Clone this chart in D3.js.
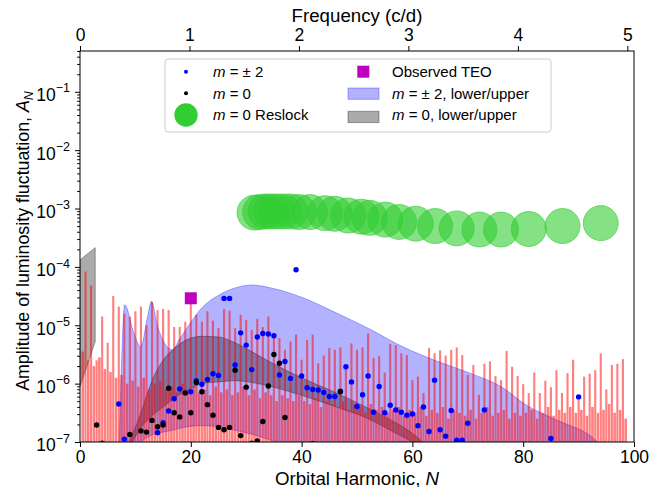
<!DOCTYPE html>
<html><head><meta charset="utf-8">
<script src="https://cdn.jsdelivr.net/npm/d3@7"></script>
<style>body{margin:0;background:#fff} svg{display:block} text{font-family:"Liberation Sans",Arial,sans-serif;fill:#000}</style>
</head><body><svg id="c" width="665" height="487"></svg>
<script>
// ---------------- DATA (log10 of amplitude) ----------------
const harmonics = d3.range(1, 99);            // orbital harmonics N = 1..98
const peakLog10 = [
 -4.08,-4.32,-5.6,-4.85,-5.3,-4.5,-4.68,-4.8,-4.85,-4.76,
 -4.68,-5.0,-4.6,-4.74,-4.72,-4.74,-5.03,-5.03,-4.94,-4.55,
 -4.82,-4.94,-4.76,-4.92,-5.05,-4.72,-4.75,-5.05,-4.82,-4.91,
 -5.08,-4.89,-5.03,-4.85,-5.16,-5.22,-5.42,-5.28,-5.16,-5.59,
 -5.25,-5.16,-5.65,-5.52,-5.39,-5.42,-5.38,-5.68,-5.31,-5.42,
 -5.38,-5.14,-5.56,-5.53,-5.81,-5.32,-5.34,-5.48,-5.51,-5.94,
 -5.88,-6.16,-5.39,-5.48,-5.43,-5.52,-5.42,-5.38,-5.51,-5.85,
 -5.68,-6.19,-5.66,-5.62,-5.87,-5.94,-5.44,-5.71,-5.87,-6.01,
 -6.16,-5.81,-6.16,-5.95,-6.06,-5.77,-6.16,-5.82,-5.59,-6.28,
 -5.88,-5.83,-5.77,-5.48,-6.1,-5.68,-5.66,-5.58];
const noiseN = d3.range(0.5, 99, 1);          // between-harmonic noise, N+0.5
const noiseLog10 = [
 -5.45,-5.6,-5.7,-5.55,-5.75,-5.8,-5.9,-5.85,-6.0,-5.95,
 -6.05,-5.9,-6.1,-6.0,-5.95,-6.1,-6.05,-6.15,-6.0,-6.1,
 -6.05,-6.15,-6.1,-6.2,-6.05,-6.15,-6.1,-6.2,-6.15,-6.05,
 -6.2,-6.1,-6.25,-6.15,-6.2,-6.3,-6.2,-6.25,-6.3,-6.2,
 -6.3,-6.35,-6.25,-6.4,-6.3,-6.35,-6.4,-6.3,-6.45,-6.35,
 -6.4,-6.5,-6.35,-6.45,-6.4,-6.5,-6.45,-6.4,-6.55,-6.45,
 -6.5,-6.4,-6.55,-6.45,-6.5,-6.4,-6.6,-6.45,-6.5,-6.55,
 -6.45,-6.6,-6.5,-6.4,-6.55,-6.5,-6.45,-6.6,-6.5,-6.55,
 -6.5,-6.45,-6.6,-6.5,-6.4,-6.55,-6.45,-6.5,-6.4,-6.5,
 -6.45,-6.55,-6.4,-6.5,-6.45,-6.35,-6.5,-6.45,-6.6];

const blueBandN  = [7.0,7.3,8.06,9.75,10.95,12.2,12.9,14.0,16.7,17.9,20,22,25.1,28,31.1,34.5,40,46.3,52,58.3,64,70.4,76,80.6,86,92.6,94.5];
const blueHiLog10= [-7.3,-6.28,-4.65,-5.14,-5.37,-4.85,-4.59,-5.02,-5.42,-5.25,-4.95,-4.7,-4.48,-4.36,-4.31,-4.36,-4.52,-4.79,-5.05,-5.37,-5.6,-5.82,-6.05,-6.37,-6.62,-6.93,-7.1];
const blueLoLog10= [-7.3,-7.3,-7.2,-7.1,-7.0,-6.92,-6.88,-6.85,-6.8,-6.77,-6.73,-6.72,-6.74,-6.8,-6.87,-6.97,-7.15,-7.3,-7.4,-7.4,-7.4,-7.4,-7.4,-7.4,-7.4,-7.4,-7.4];

const grayLeftN    = [0, 2.75];
const grayLeftHi   = [-3.88, -3.67];
const grayLeftLo   = [-6.05, -5.28];
const grayBandN    = [8,11,13,15,17,20,22,25,28,31,34.5,40,46.3,52,57,60,63];
const grayHiLog10  = [-7.2,-6.5,-5.95,-5.6,-5.4,-5.22,-5.19,-5.2,-5.3,-5.45,-5.64,-5.9,-6.16,-6.42,-6.67,-6.85,-7.1];
const grayLoLog10  = [-7.3,-6.75,-6.55,-6.4,-6.25,-6.08,-6.0,-5.97,-5.95,-5.98,-6.05,-6.2,-6.4,-6.6,-6.85,-7.0,-7.2];

const reslockN     = [31.5,32.5,33.5,34.5,35.5,36.7,38,39.5,41.5,44.2,46,48.4,50.8,52.3,55.1,57.6,60.6,64.1,68,72.1,76,81,87.1,94];
const reslockLog10 = [-3.07,-3.06,-3.05,-3.05,-3.05,-3.05,-3.05,-3.06,-3.06,-3.08,-3.09,-3.12,-3.14,-3.16,-3.19,-3.23,-3.26,-3.30,-3.34,-3.36,-3.36,-3.35,-3.30,-3.25];

const m2N     = [7,8,14,15,16,17,18,20,21,22,23,24,25,26,27,28,29,30,31,32,33,34,35,36,37,38,39,40,41,42,43,44,45,46,47,48,49,50,51,52,53,54,55,56,57,58,59,60,61,62,63,64,65,66,67,68,69,70,73,85,90];
const m2Log10 = [-6.35,-6.95,-6.84,-6.67,-6.47,-6.26,-6.09,-6.14,-5.95,-6.01,-5.93,-5.83,-5.86,-4.54,-4.54,-5.68,-5.13,-5.34,-5.76,-5.20,-5.14,-5.15,-5.18,-5.85,-5.62,-5.91,-4.05,-5.87,-6.07,-6.10,-6.11,-6.15,-6.22,-6.22,-6.13,-5.71,-5.97,-6.39,-6.19,-5.87,-6.49,-6.05,-6.50,-6.37,-6.45,-6.49,-6.54,-6.52,-6.72,-6.40,-6.82,-5.94,-6.79,-6.90,-6.46,-6.97,-6.97,-6.68,-6.45,-6.94,-6.23];
const m0N     = [3,4,9,11,12,13,14,15,16,17,18,19,20,21,22,23,24,25,26,27,28,29,30,31,32,33,34,35,36,37,42,47];
const m0Log10 = [-6.71,-7.02,-6.87,-6.81,-6.83,-6.63,-6.74,-6.71,-6.08,-6.50,-6.57,-6.16,-6.50,-5.98,-6.14,-6.36,-6.54,-6.75,-6.79,-6.75,-5.77,-6.89,-6.06,-7.02,-6.98,-6.65,-6.04,-5.50,-5.65,-6.58,-7.03,-6.14];

const teoN = [20], teoAmp = [2.9e-5];

const xTicks = [0,20,40,60,80,100];
const freqTicks = [0,1,2,3,4,5];
const yExp = [-7,-6,-5,-4,-3,-2,-1];
const legendLabels = ["m = \u00b1 2","m = 0","m = 0 Reslock","Observed TEO","m = \u00b1 2, lower/upper","m = 0, lower/upper"];

// ---------------- CHART ----------------
const svg = d3.select("#c");
const L=80,R=634,T=51,B=442;
const FS=17.5, FL=18.7;
const x = d3.scaleLinear().domain([0,100]).range([L,R]);
const xTop = d3.scaleLinear().domain([0,100*5/98.8]).range([L,R]);
const y = d3.scaleLog().domain([1e-7,0.5]).range([B,T]);
const P = v => Math.pow(10,v);

svg.append("defs").append("clipPath").attr("id","clip").append("rect")
  .attr("x",L).attr("y",T).attr("width",R-L).attr("height",B-T);
const plot = svg.append("g").attr("clip-path","url(#clip)");

// bands
const area = d3.area().x(d=>x(d.n)).y0(d=>y(P(d.lo))).y1(d=>y(P(d.hi))).curve(d3.curveMonotoneX);
const areaLin = d3.area().x(d=>x(d.n)).y0(d=>y(P(d.lo))).y1(d=>y(P(d.hi)));
const band = (N,lo,hi)=>N.map((n,i)=>({n,lo:lo[i],hi:hi[i]}));
plot.append("path").datum(band(blueBandN,blueLoLog10,blueHiLog10)).attr("d",area)
  .attr("fill","#0000ff").attr("fill-opacity",0.3).attr("stroke","#0000ff").attr("stroke-opacity",0.3);
plot.append("path").datum(band(grayLeftN,grayLeftLo,grayLeftHi)).attr("d",areaLin)
  .attr("fill","#000").attr("fill-opacity",0.33).attr("stroke","#000").attr("stroke-opacity",0.33);
plot.append("path").datum(band(grayBandN,grayLoLog10,grayHiLog10)).attr("d",area)
  .attr("fill","#000").attr("fill-opacity",0.33).attr("stroke","#000").attr("stroke-opacity",0.33);

// red spectrum (drawn over the bands)
const red = plot.append("g").attr("opacity",0.5);
red.selectAll("line.n").data(noiseLog10).join("line").attr("class","n")
  .attr("x1",(d,i)=>x(noiseN[i])).attr("x2",(d,i)=>x(noiseN[i]))
  .attr("y1",B+3).attr("y2",d=>y(P(d))).attr("stroke","#ff0000").attr("stroke-width",2.6);
red.selectAll("line.p").data(peakLog10).join("line").attr("class","p")
  .attr("x1",(d,i)=>x(harmonics[i])).attr("x2",(d,i)=>x(harmonics[i]))
  .attr("y1",B+3).attr("y2",d=>y(P(d))).attr("stroke","#ff0000").attr("stroke-width",2.1);

// reslock circles
plot.append("g").selectAll("circle").data(reslockN).join("circle")
  .attr("cx",d=>x(d)).attr("cy",(d,i)=>y(P(reslockLog10[i]))).attr("r",17.5)
  .attr("fill","limegreen").attr("fill-opacity",0.6).attr("stroke","limegreen").attr("stroke-opacity",0.6);

// dots
plot.append("g").selectAll("circle").data(m2N).join("circle")
  .attr("cx",d=>x(d)).attr("cy",(d,i)=>y(P(m2Log10[i]))).attr("r",2.7).attr("fill","#0000ff");
plot.append("g").selectAll("circle").data(m0N).join("circle")
  .attr("cx",d=>x(d)).attr("cy",(d,i)=>y(P(m0Log10[i]))).attr("r",2.7).attr("fill","#000");

// TEO
plot.selectAll("rect.teo").data(teoN).join("rect").attr("class","teo")
  .attr("x",d=>x(d)-6).attr("y",(d,i)=>y(teoAmp[i])-6).attr("width",12).attr("height",12).attr("fill","#bf00bf");

// frame
svg.append("rect").attr("x",L).attr("y",T).attr("width",R-L).attr("height",B-T)
  .attr("fill","none").attr("stroke","#000").attr("stroke-width",1);

// axes
const styleAxis = g => { g.select(".domain").remove(); g.selectAll("line").attr("stroke","#000");
  g.selectAll("text").attr("font-size",FS).attr("font-family","'Liberation Sans',Arial,sans-serif"); };
svg.append("g").attr("transform",`translate(0,${B})`)
  .call(d3.axisBottom(x).tickValues(xTicks).tickSize(5).tickPadding(4).tickFormat(d3.format("d"))).call(styleAxis);
svg.append("g").attr("transform",`translate(0,${T})`)
  .call(d3.axisTop(xTop).tickValues(freqTicks).tickSize(5).tickPadding(5).tickFormat(d3.format("d"))).call(styleAxis);
const minor=[];
for(let e=-7;e<0;e++) for(let k=2;k<10;k++){const v=k*Math.pow(10,e); if(v<=0.5) minor.push(v);}
svg.append("g").attr("transform",`translate(${L},0)`)
  .call(d3.axisLeft(y).tickValues(minor).tickSize(2.8).tickFormat("")).call(styleAxis);
svg.append("g").attr("transform",`translate(${L},0)`)
  .call(d3.axisLeft(y).tickValues(yExp.map(P)).tickSize(5).tickFormat("")).call(styleAxis);
const yl = svg.append("g");
yExp.forEach(e=>{
  const t = yl.append("text").attr("x",70).attr("y",y(P(e))+9.4).attr("text-anchor","end").attr("font-size",FS);
  t.append("tspan").text("10");
  t.append("tspan").attr("dy",-8.7).attr("font-size",12.5).text("\u2212"+Math.abs(e));
});

// axis titles
svg.append("text").attr("x",357).attr("y",484.5).attr("text-anchor","middle").attr("font-size",FL)
  .call(t=>{t.append("tspan").text("Orbital Harmonic, "); t.append("tspan").attr("font-style","italic").text("N");});
svg.append("text").attr("x",357).attr("y",22).attr("text-anchor","middle").attr("font-size",FL).text("Frequency (c/d)");
svg.append("text").attr("transform","translate(29,241) rotate(-90)").attr("text-anchor","middle").attr("font-size",17.8)
  .call(t=>{t.append("tspan").text("Amplitude of luminosity fluctuation, ");
    t.append("tspan").attr("font-style","italic").text("A");
    t.append("tspan").attr("font-style","italic").attr("dy",4).attr("font-size",12.5).text("N");});

// legend
const lg = svg.append("g");
lg.append("rect").attr("x",165).attr("y",59).attr("width",386).attr("height",73).attr("rx",3)
  .attr("fill","#fff").attr("fill-opacity",0.8).attr("stroke","#cccccc");
const rows=[77,98.6,120.3];
const mathLabel=(t,s)=>{
  if(s.startsWith("m ")){ t.append("tspan").attr("font-style","italic").text("m"); t.append("tspan").text(s.slice(1)); }
  else t.text(s);
};
lg.append("circle").attr("cx",186).attr("cy",71.7).attr("r",2).attr("fill","#0000ff");
lg.append("circle").attr("cx",186).attr("cy",93.3).attr("r",2).attr("fill","#000");
lg.append("circle").attr("cx",186).attr("cy",115).attr("r",11.7).attr("fill","limegreen");
lg.append("rect").attr("x",357.3).attr("y",65.7).attr("width",12).attr("height",12).attr("fill","#bf00bf");
lg.append("rect").attr("x",348).attr("y",88).attr("width",31).attr("height",11.3)
  .attr("fill","#0000ff").attr("fill-opacity",0.3).attr("stroke","#0000ff").attr("stroke-opacity",0.3);
lg.append("rect").attr("x",348).attr("y",111.3).attr("width",31).attr("height",11.3)
  .attr("fill","#000").attr("fill-opacity",0.33).attr("stroke","#000").attr("stroke-opacity",0.33);
legendLabels.forEach((s,i)=>{
  const t = lg.append("text").attr("x", i<3?213:392).attr("y",rows[i%3]).attr("font-size",15);
  mathLabel(t,s);
});
</script></body></html>
